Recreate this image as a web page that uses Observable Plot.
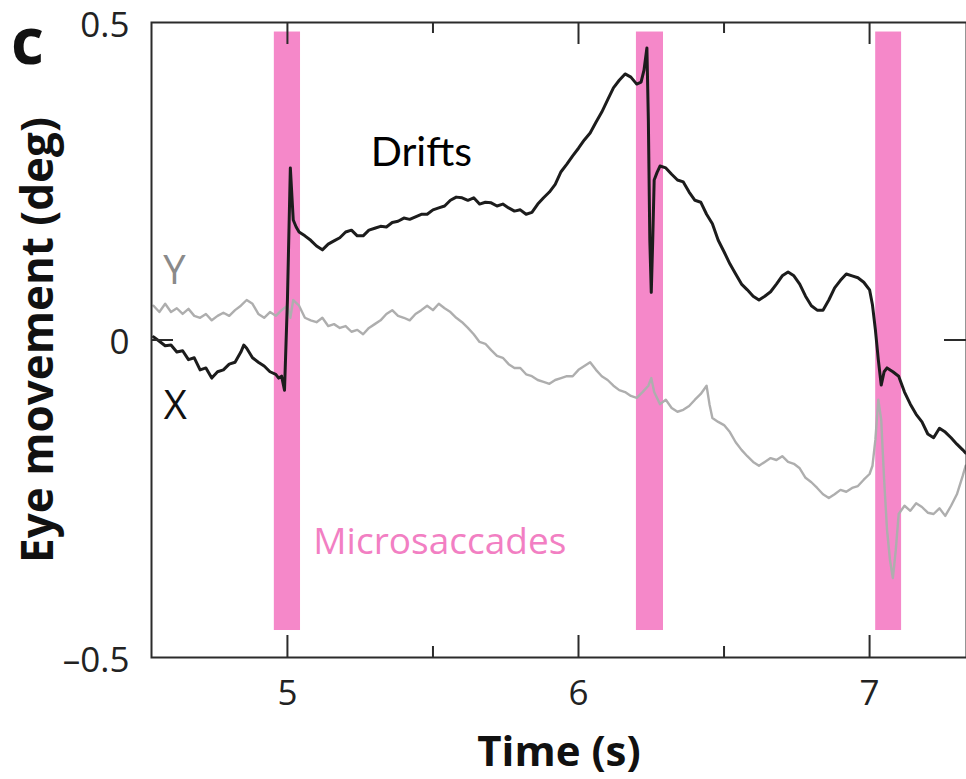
<!DOCTYPE html>
<html>
<head>
<meta charset="utf-8">
<script src="https://cdn.jsdelivr.net/npm/d3@7"></script>
<script src="https://cdn.jsdelivr.net/npm/@observablehq/plot@0.6"></script>
<style>
  html, body { margin: 0; padding: 0; background: #fff; }
  #chart svg { display: block; }
</style>
</head>
<body>
<div id="chart"></div>
<script>
// ---- Data ----
const xDomain = [4.533, 7.333];
const yDomain = [-0.5, 0.5];

const xMajorTicks = [5, 6, 7];
const xMinorTicks = [5.5, 6.5];
const yTicks = [-0.5, 0, 0.5];
const yTickLabels = ["–0.5", "0", "0.5"];

// microsaccade intervals (s)
const saccadeStart = [4.955, 6.199, 7.021];
const saccadeEnd   = [5.045, 6.292, 7.110];
const bandTop = 0.485;
const bandBottom = -0.4575;

// horizontal eye position X (deg) : [time, value]
const xTrace = [
  [4.54,0.005],[4.56,-0.002],[4.58,-0.009],[4.60,-0.008],[4.62,-0.019],[4.64,-0.017],
  [4.66,-0.031],[4.68,-0.028],[4.70,-0.047],[4.72,-0.044],[4.74,-0.060],[4.76,-0.050],
  [4.78,-0.047],[4.80,-0.038],[4.82,-0.035],[4.84,-0.019],[4.85,-0.008],[4.86,-0.013],[4.88,-0.028],
  [4.90,-0.035],[4.92,-0.041],[4.94,-0.050],[4.96,-0.054],[4.97,-0.060],[4.98,-0.057],
  [4.99,-0.079],[5.00,0.063],[5.01,0.271],[5.02,0.189],[5.03,0.178],[5.04,0.170],
  [5.06,0.164],[5.08,0.157],[5.10,0.148],[5.12,0.142],[5.14,0.151],[5.16,0.156],
  [5.18,0.161],[5.20,0.170],[5.22,0.173],[5.24,0.164],[5.26,0.164],[5.28,0.173],
  [5.30,0.176],[5.32,0.179],[5.34,0.178],[5.36,0.185],[5.38,0.187],[5.40,0.192],
  [5.42,0.190],[5.44,0.194],[5.46,0.198],[5.48,0.198],[5.50,0.205],[5.52,0.208],
  [5.54,0.211],[5.56,0.220],[5.58,0.225],[5.60,0.224],[5.62,0.220],[5.64,0.224],
  [5.66,0.214],[5.68,0.217],[5.70,0.216],[5.72,0.211],[5.74,0.214],[5.76,0.208],
  [5.78,0.203],[5.80,0.205],[5.82,0.198],[5.84,0.201],[5.86,0.214],[5.88,0.224],
  [5.90,0.233],[5.92,0.245],[5.94,0.265],[5.96,0.277],[5.98,0.290],[6.00,0.302],
  [6.02,0.315],[6.04,0.326],[6.06,0.343],[6.08,0.359],[6.10,0.378],[6.12,0.397],
  [6.14,0.409],[6.16,0.419],[6.18,0.414],[6.20,0.403],[6.215,0.406],[6.225,0.425],
  [6.235,0.460],[6.24,0.346],[6.245,0.157],[6.25,0.075],[6.255,0.157],[6.26,0.252],
  [6.27,0.264],[6.28,0.274],[6.30,0.271],[6.32,0.261],[6.34,0.252],[6.36,0.249],
  [6.38,0.233],[6.40,0.220],[6.42,0.217],[6.44,0.198],[6.46,0.183],[6.48,0.157],
  [6.50,0.139],[6.52,0.120],[6.54,0.104],[6.56,0.088],[6.58,0.079],[6.60,0.069],
  [6.62,0.063],[6.64,0.069],[6.66,0.076],[6.68,0.088],[6.70,0.101],[6.72,0.107],
  [6.74,0.101],[6.76,0.088],[6.78,0.069],[6.80,0.054],[6.82,0.047],[6.84,0.047],
  [6.86,0.063],[6.88,0.082],[6.90,0.094],[6.92,0.104],[6.94,0.101],[6.96,0.098],
  [6.98,0.091],[7.00,0.079],[7.01,0.055],[7.02,0.016],[7.03,-0.031],[7.04,-0.071],
  [7.05,-0.050],[7.06,-0.044],[7.08,-0.050],[7.10,-0.057],[7.12,-0.082],[7.14,-0.101],
  [7.16,-0.117],[7.18,-0.129],[7.20,-0.148],[7.22,-0.154],[7.24,-0.139],[7.26,-0.145],
  [7.28,-0.154],[7.30,-0.164],[7.32,-0.173],[7.33,-0.178]
];

// vertical eye position Y (deg) : [time, value]
const yTrace = [
  [4.54,0.054],[4.56,0.044],[4.58,0.057],[4.60,0.044],[4.62,0.050],[4.64,0.041],
  [4.66,0.049],[4.68,0.038],[4.70,0.035],[4.72,0.041],[4.74,0.031],[4.76,0.038],
  [4.78,0.043],[4.80,0.038],[4.82,0.047],[4.84,0.054],[4.86,0.063],[4.88,0.057],
  [4.90,0.041],[4.92,0.035],[4.94,0.044],[4.96,0.038],[4.98,0.047],[5.00,0.054],
  [5.01,0.035],[5.02,0.063],[5.04,0.054],[5.06,0.035],[5.08,0.031],[5.10,0.028],
  [5.12,0.035],[5.14,0.022],[5.16,0.025],[5.18,0.019],[5.20,0.022],[5.22,0.013],
  [5.24,0.016],[5.26,0.009],[5.28,0.019],[5.30,0.025],[5.32,0.031],[5.34,0.041],
  [5.36,0.047],[5.38,0.038],[5.40,0.035],[5.42,0.031],[5.44,0.041],[5.46,0.047],
  [5.48,0.054],[5.50,0.047],[5.52,0.057],[5.54,0.050],[5.56,0.044],[5.58,0.035],
  [5.60,0.028],[5.62,0.019],[5.64,0.009],[5.66,-0.003],[5.68,-0.006],[5.70,-0.016],
  [5.72,-0.025],[5.74,-0.028],[5.76,-0.038],[5.78,-0.044],[5.80,-0.044],[5.82,-0.054],
  [5.84,-0.057],[5.86,-0.063],[5.88,-0.066],[5.90,-0.069],[5.92,-0.063],[5.94,-0.060],
  [5.96,-0.057],[5.98,-0.057],[6.00,-0.047],[6.02,-0.041],[6.04,-0.035],[6.06,-0.047],
  [6.08,-0.057],[6.10,-0.063],[6.12,-0.072],[6.14,-0.079],[6.16,-0.082],[6.18,-0.088],
  [6.20,-0.091],[6.22,-0.082],[6.24,-0.072],[6.25,-0.060],[6.26,-0.082],[6.28,-0.101],
  [6.30,-0.094],[6.32,-0.107],[6.34,-0.113],[6.36,-0.110],[6.38,-0.104],[6.40,-0.094],
  [6.42,-0.085],[6.44,-0.072],[6.45,-0.101],[6.46,-0.123],[6.48,-0.129],[6.50,-0.134],
  [6.52,-0.145],[6.54,-0.161],[6.56,-0.173],[6.58,-0.183],[6.60,-0.192],[6.62,-0.198],
  [6.64,-0.192],[6.66,-0.186],[6.68,-0.189],[6.70,-0.183],[6.72,-0.192],[6.74,-0.195],
  [6.76,-0.202],[6.78,-0.217],[6.80,-0.224],[6.82,-0.233],[6.84,-0.243],[6.86,-0.249],
  [6.88,-0.243],[6.90,-0.236],[6.92,-0.239],[6.94,-0.233],[6.96,-0.230],[6.98,-0.220],
  [7.00,-0.211],[7.01,-0.198],[7.02,-0.157],[7.03,-0.094],[7.04,-0.126],[7.05,-0.220],
  [7.06,-0.299],[7.07,-0.346],[7.08,-0.375],[7.09,-0.331],[7.10,-0.274],[7.12,-0.261],
  [7.14,-0.269],[7.16,-0.257],[7.18,-0.263],[7.20,-0.272],[7.22,-0.274],[7.24,-0.265],
  [7.26,-0.277],[7.28,-0.261],[7.30,-0.243],[7.32,-0.214],[7.33,-0.198]
];

// annotation label positions (data coordinates)
const driftsLabel = {text: "Drifts", t: 5.46, v: 0.295};
const saccadeLabel = {text: "Microsaccades", t: 5.089, v: -0.319};
const yLabel = {text: "Y", t: 4.612, v: 0.109};
const xLabel = {text: "X", t: 4.615, v: -0.105};

// ---- Chart ----
const W = 966, H = 779;
const mL = 151, mR = 0, mT = 22, mB = 122;
const frameW = W - mL - mR, frameH = H - mT - mB;
const axisColor = "#2b2b2b";
const majorLen = 22, minorLen = 11;

const saccades = saccadeStart.map((s, i) => ({s, e: saccadeEnd[i]}));
const yTickData = yTicks.map((v, i) => ({v, label: yTickLabels[i]}));
const tickFont = {fontFamily: "Open Sans", fontSize: 35, fill: "#222"};

const chart = Plot.plot({
  width: W, height: H,
  marginLeft: mL, marginRight: mR, marginTop: mT, marginBottom: mB,
  x: {domain: xDomain, axis: null},
  y: {domain: yDomain, axis: null},
  style: {background: "white", overflow: "visible"},
  marks: [
    Plot.rect(saccades, {x1: "s", x2: "e", y1: bandBottom, y2: bandTop, fill: "#f588c9"}),
    Plot.line(yTrace, {x: d => d[0], y: d => d[1], stroke: "#aeaeae", strokeWidth: 2.4, strokeLinejoin: "round"}),
    Plot.line(xTrace, {x: d => d[0], y: d => d[1], stroke: "#1c1c1c", strokeWidth: 3, strokeLinejoin: "round"}),
    Plot.frame({stroke: axisColor, strokeWidth: 2}),
    // bottom ticks (inward)
    Plot.ruleX(xMajorTicks, {x: d => d, insetTop: frameH - majorLen, stroke: axisColor, strokeWidth: 2}),
    Plot.ruleX(xMinorTicks, {x: d => d, insetTop: frameH - minorLen, stroke: axisColor, strokeWidth: 2}),
    // top ticks (inward)
    Plot.ruleX(xMajorTicks, {x: d => d, insetBottom: frameH - majorLen, stroke: axisColor, strokeWidth: 2}),
    Plot.ruleX(xMinorTicks, {x: d => d, insetBottom: frameH - minorLen, stroke: axisColor, strokeWidth: 2}),
    // left and right ticks at 0
    Plot.ruleY([0], {y: d => d, insetRight: frameW - majorLen, stroke: axisColor, strokeWidth: 2}),
    Plot.ruleY([0], {y: d => d, insetLeft: frameW - majorLen, stroke: axisColor, strokeWidth: 2}),
    // tick labels
    Plot.text(xMajorTicks, {x: d => d, text: d => String(d), frameAnchor: "bottom", dy: 36,
      textAnchor: "middle", lineAnchor: "middle", ...tickFont}),
    Plot.text(yTickData, {y: "v", text: "label", x: xDomain[0], dx: -22, dy: 3,
      textAnchor: "end", lineAnchor: "middle", ...tickFont}),
    // axis titles
    Plot.text(["Time (s)"], {frameAnchor: "bottom", dy: 95, textAnchor: "middle", lineAnchor: "middle",
      fontFamily: "Open Sans", fontWeight: "bold", fontSize: 42, fill: "#111"}),
    Plot.text(["Eye movement (deg)"], {frameAnchor: "left", dx: -113, dy: 0, rotate: -90,
      textAnchor: "middle", lineAnchor: "middle",
      fontFamily: "Open Sans", fontWeight: "bold", fontSize: 44, fill: "#111"}),
    // panel letter
    Plot.text(["c"], {frameAnchor: "top-left", dx: -124, dy: 21, textAnchor: "middle", lineAnchor: "middle",
      fontFamily: "Open Sans", fontWeight: "bold", fontSize: 64, fill: "#111"}),
    // annotations
    Plot.text([driftsLabel], {x: "t", y: "v", text: "text", fill: "#000", fontFamily: "Lato",
      fontSize: 41, textAnchor: "middle", lineAnchor: "middle"}),
    Plot.text([saccadeLabel], {x: "t", y: "v", text: "text", fill: "#f27fc3", fontFamily: "Open Sans",
      fontSize: 37, textAnchor: "start", lineAnchor: "middle"}),
    Plot.text([yLabel], {x: "t", y: "v", text: "text", fill: "#8a8a8a", fontFamily: "Open Sans",
      fontSize: 40, textAnchor: "middle", lineAnchor: "middle"}),
    Plot.text([xLabel], {x: "t", y: "v", text: "text", fill: "#111", fontFamily: "Open Sans",
      fontSize: 40, textAnchor: "middle", lineAnchor: "middle"})
  ]
});
document.getElementById("chart").append(chart);
</script>
</body>
</html>
